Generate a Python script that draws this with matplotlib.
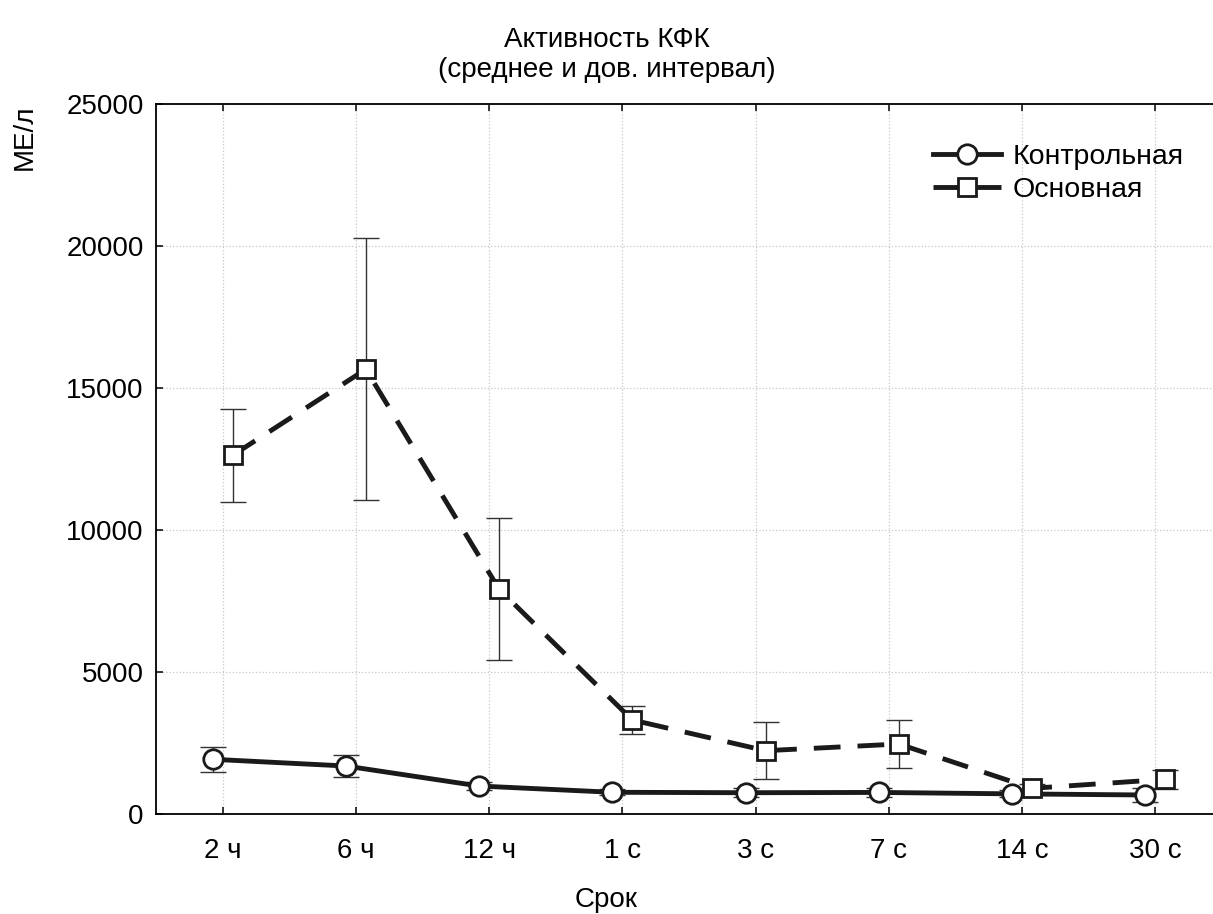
import matplotlib
matplotlib.use("Agg")
import matplotlib.pyplot as plt
import numpy as np

plt.rcParams['font.family'] = ['Liberation Sans', 'DejaVu Sans']

# ---- data ----
categories = ["2 ч", "6 ч", "12 ч", "1 с", "3 с", "7 с", "14 с", "30 с"]
control_mean = [1937, 1700, 996, 775, 760, 770, 720, 680]
control_ci = [450, 400, 150, 100, 150, 150, 120, 250]
main_mean = [12640, 15670, 7923, 3320, 2240, 2475, 915, 1232]
main_ci = [1640, 4620, 2500, 480, 1000, 855, 150, 335]
series_names = ["Контрольная", "Основная"]
yticks = [0, 5000, 10000, 15000, 20000, 25000]

W, H = 1213, 914
fig = plt.figure(figsize=(W / 100, H / 100), dpi=100)
left, right, bottom, top = 156 / W, 1222 / W, 1 - 814.3 / H, 1 - 104.3 / H
ax = fig.add_axes([left, bottom, right - left, top - bottom])

x = np.arange(len(categories))
off = 0.075

err_kw = dict(fmt='none', ecolor='#333333', elinewidth=1.0, capsize=9.4,
              capthick=1.0, zorder=2)
ax.errorbar(x - off, control_mean, yerr=control_ci, **err_kw)
ax.errorbar(x + off, main_mean, yerr=main_ci, **err_kw)

ax.plot(x - off, control_mean, color='#1a1a1a', lw=3.5, marker='o', ms=14,
        mfc='white', mec='#1a1a1a', mew=2.0, zorder=3, label=series_names[0])
ax.plot(x + off, main_mean, color='#1a1a1a', lw=3.5, ls=(0, (5.5, 3.5)),
        marker='s', ms=13.5, mfc='white', mec='#1a1a1a', mew=2.0, zorder=3,
        label=series_names[1])

ax.set_xlim(-0.5, len(categories) - 0.5)
ax.set_ylim(0, 25000)
ax.set_xticks(x)
ax.set_xticklabels(categories)
ax.set_yticks(yticks)
ax.set_yticklabels([str(v) for v in yticks])

ax.grid(True, color='#c8c8c8', ls=':', lw=0.9)
ax.set_axisbelow(True)
ax.tick_params(axis='both', direction='in', length=5, width=1.1,
               labelsize=20, colors='black', top=True, right=False)
ax.tick_params(axis='x', pad=17)
ax.tick_params(axis='y', pad=9)
for s in ['left', 'bottom', 'top']:
    ax.spines[s].set_linewidth(1.3)
    ax.spines[s].set_color('black')
ax.spines['right'].set_visible(False)

fig.text(606.5 / W, 1 - 55 / H, "Активность КФК\n(среднее и дов. интервал)",
         ha='center', va='center', fontsize=20, linespacing=1.2)
fig.text(606.5 / W, 1 - 900 / H, "Срок", ha='center', va='center', fontsize=20)
fig.text(25 / W, 1 - 137 / H, "МЕ/л", ha='center', va='center', fontsize=20,
         rotation=90)

leg = ax.legend(loc='upper left', bbox_to_anchor=(933 / W, 1 - 144 / H),
                bbox_transform=fig.transFigure, frameon=False, fontsize=20.5,
                handlelength=2.4, handletextpad=0.4, borderpad=0,
                borderaxespad=0, labelspacing=0.25)

fig.savefig("out.png", dpi=100)
